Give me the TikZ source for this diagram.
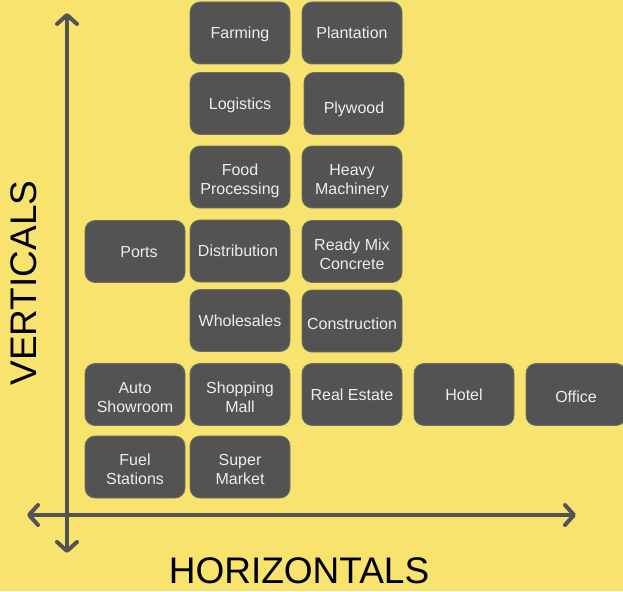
\documentclass[tikz,border=0pt]{standalone}
\usepackage{fontspec}
\setmainfont{Liberation Sans}
\usetikzlibrary{arrows.meta}

\definecolor{bgyellow}{RGB}{247,227,110}
\definecolor{boxgray}{RGB}{83,83,83}
\definecolor{boxedge}{RGB}{110,110,100}

% push a label down a little without changing its box
\newcommand{\sink}[2]{\raisebox{-#1}[\height][\depth]{#2}}
\newcommand{\pair}[2]{\raisebox{3pt}[\height][\depth]{\begin{tabular}{@{}c@{}}#1\\#2\end{tabular}}}

\begin{document}
\begin{tikzpicture}[x=1pt,y=-1pt,
  sector/.style={draw=boxedge,line width=0.8pt,fill=boxgray,rounded corners=10pt,
    minimum width=100pt,minimum height=62pt,align=center,text depth=0pt,
    text=white!93!black,font=\fontsize{16}{19}\selectfont},
  axis/.style={line width=4pt,color=boxgray,{Straight Barb[length=9pt,width=20pt,round]}-{Straight Barb[length=9pt,width=20pt,round]}},
  axislabel/.style={font=\fontsize{37}{40}\selectfont,text=black}]
  \fill[bgyellow] (0,0) rectangle (623,591);
  \useasboundingbox (0,0) rectangle (623,591);

  \coordinate (top) at (67,13);
  \coordinate (bottom) at (67,553);
  \coordinate (left) at (27,515);
  \coordinate (right) at (576,515);

  \draw[axis] (bottom) -- (top);
  \draw[axis] (left) -- (right);

  \node[axislabel,rotate=90] (vert) at (24,283) {VERTICALS};
  \node[axislabel] (horiz) at (299,571) {HORIZONTALS};

  % first column
  \node[sector] (ports) at (135,251.5) {\hspace{8pt}Ports};
  \node[sector] (auto) at (135,394.5) {\pair{Auto}{Showroom}};
  \node[sector] (fuel) at (135,467) {\pair{Fuel}{Stations}};

  % second column
  \node[sector] (farming) at (240,33) {Farming};
  \node[sector] (logistics) at (240,103.5) {Logistics};
  \node[sector] (food) at (240,177) {\pair{Food}{Processing}};
  \node[sector] (distribution) at (240,251) {Distribution\hspace{4pt}};
  \node[sector] (wholesales) at (240,320.5) {Wholesales};
  \node[sector] (mall) at (240,394.5) {\pair{Shopping}{Mall}};
  \node[sector] (market) at (240,467) {\pair{Super}{Market}};

  % third column
  \node[sector] (plantation) at (352,33) {Plantation};
  \node[sector] (plywood) at (354,103.5) {\sink{4pt}{Plywood}};
  \node[sector] (machinery) at (352,177) {\pair{Heavy}{Machinery}};
  \node[sector] (readymix) at (352,251.5) {\pair{Ready Mix}{Concrete}};
  \node[sector] (construction) at (352,321) {\sink{3pt}{Construction}};
  \node[sector] (realestate) at (352,394.5) {Real Estate};

  % right of the row
  \node[sector] (hotel) at (464,394.5) {Hotel};
  \node[sector] (office) at (576,394.5) {\sink{2pt}{Office}};
\end{tikzpicture}
\end{document}
